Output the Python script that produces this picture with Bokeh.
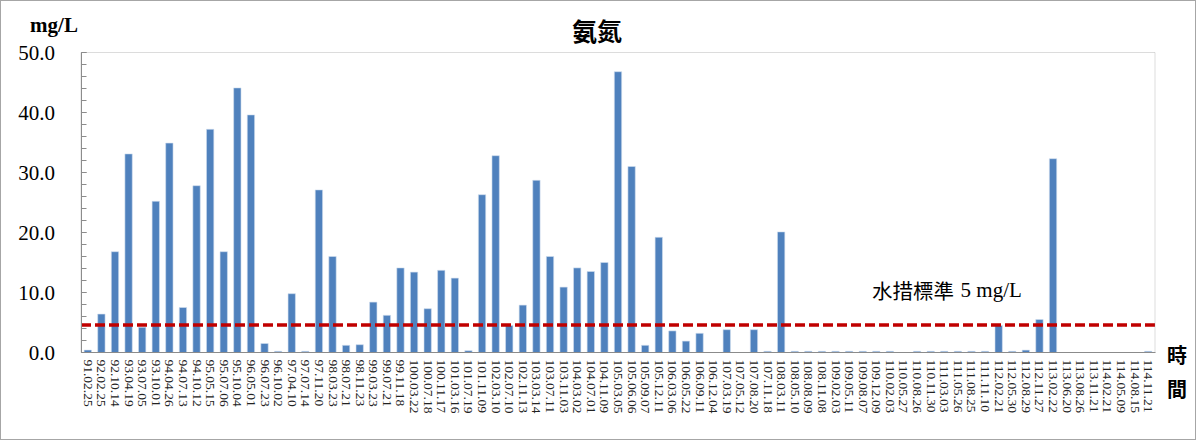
from bokeh.plotting import figure
from bokeh.models import (Range1d, Label, SingleIntervalTicker, NumeralTickFormatter,
                          FixedTicker, BoxAnnotation)
from bokeh.embed import file_html
from bokeh.resources import INLINE

dates = [
    "91.02.25", "92.02.25", "92.10.14", "93.04.19", "93.07.05", "93.10.01", "94.04.26", "94.07.13",
    "94.10.12", "95.05.15", "95.07.06", "95.10.04", "96.05.01", "96.07.23", "96.10.02", "97.04.10",
    "97.07.14", "97.11.20", "98.03.23", "98.07.21", "98.11.23", "99.03.23", "99.07.21", "99.11.18",
    "100.03.22", "100.07.18", "100.11.17", "101.03.16", "101.07.19", "101.11.09", "102.03.10",
    "102.07.10", "102.11.13", "103.03.14", "103.07.11", "103.11.03", "104.03.02", "104.07.01",
    "104.11.09", "105.03.05", "105.06.06", "105.09.07", "105.12.11", "106.03.06", "106.05.22",
    "106.09.11", "106.12.04", "107.03.19", "107.05.12", "107.08.20", "107.11.18", "108.03.11",
    "108.05.10", "108.08.09", "108.11.08", "109.02.03", "109.05.11", "109.08.07", "109.12.09",
    "110.02.03", "110.05.27", "110.08.26", "110.11.30", "111.03.03", "111.05.26", "111.08.25",
    "111.11.10", "112.02.21", "112.05.30", "112.08.29", "112.11.27", "113.02.22", "113.06.20",
    "113.08.26", "113.11.21", "114.02.21", "114.05.09", "114.08.15", "114.11.21",
]

ammonia = [
    0.4, 6.4, 16.8, 33.1, 4.2, 25.2, 34.9, 7.5, 27.8, 37.2, 16.8, 44.1, 39.6, 1.5, 0.2, 9.8,
    0.2, 27.1, 16.0, 1.2, 1.3, 8.4, 6.2, 14.1, 13.4, 7.3, 13.7, 12.4, 0.3, 26.3, 32.8,
    4.5, 7.9, 28.7, 16.0, 10.9, 14.1, 13.5, 15.0, 46.8, 31.0, 1.2, 19.2, 3.6, 1.9,
    3.2, 0.0, 3.8, 0.0, 3.8, 0.2, 20.1, 0.2, 0.2, 0.2, 0.2, 0.2, 0.2, 0.2,
    0.2, 0.0, 0.2, 0.2, 0.2, 0.2, 0.2, 0.2, 4.5, 0.2, 0.4, 5.5, 32.3, 0.0,
    0.0, 0.0, 0.0, 0.0, 0.0, 0.2,
]

standard_line = 4.6
y_max = 50

title_text = "氨氮"
unit_text = "mg/L"
standard_cjk = "水措標準"
standard_txt = "5 mg/L"
xaxis_title = ["時", "間"]

n = len(dates)
xpos = [i + 0.5 for i in range(n)]

W, H = 1196, 440
# plot area occupies canvas px [79.5, 1153.5] x [51, 351] (from top-left)
px_per_x = 1074 / n
px_per_y = 300 / y_max
x_start = -79.5 / px_per_x
x_end = x_start + W / px_per_x
y_end = y_max + 51 / px_per_y
y_start = y_end - H / px_per_y

p = figure(
    width=W, height=H,
    x_range=Range1d(x_start, x_end), y_range=Range1d(y_start, y_end),
    output_backend="svg", toolbar_location=None, min_border=0,
)
p.styles = {"border": "1.5px solid #a6a6a6"}
p.background_fill_color = "white"
p.border_fill_color = "white"
p.outline_line_color = None
p.xgrid.visible = False
p.ygrid.visible = False

p.vbar(x=xpos, top=ammonia, width=0.54, fill_color="#4F81BD", line_color="#D0DDEE", line_width=0.6)

p.segment(x0=[0], y0=[standard_line], x1=[n], y1=[standard_line], line_color="#C00000",
          line_width=3.5, line_dash="10 4")

p.add_layout(BoxAnnotation(left=0, right=n, bottom=0, top=y_max, fill_alpha=0,
                           line_color="#8c8c8c", line_width=1))

xa = p.xaxis[0]
xa.fixed_location = 0
xa.bounds = (0, n)
xa.ticker = FixedTicker(ticks=xpos)
xa.major_label_overrides = {x: d for x, d in zip(xpos, dates)}
xa.major_label_orientation = "vertical"
xa.major_tick_in = 0
xa.major_tick_out = 0
xa.minor_tick_line_color = None
xa.axis_line_color = "#8c8c8c"
xa.major_label_text_font = "Liberation Serif"
xa.major_label_text_font_size = "13.5px"
xa.major_label_text_color = "#222222"
xa.major_label_standoff = 7

ya = p.yaxis[0]
ya.fixed_location = 0
ya.bounds = (0, y_max)
ya.ticker = SingleIntervalTicker(interval=10, num_minor_ticks=5)
ya.formatter = NumeralTickFormatter(format="0.0")
ya.major_tick_in = 5
ya.major_tick_out = 0
ya.minor_tick_in = 5
ya.minor_tick_out = 0
ya.major_tick_line_color = "#8c8c8c"
ya.minor_tick_line_color = "#8c8c8c"
ya.axis_line_color = "#8c8c8c"
ya.major_label_text_font = "Liberation Serif"
ya.major_label_text_font_size = "21px"
ya.major_label_text_color = "black"
ya.major_label_standoff = 26


def add_text(x, y, text, font, size, bold=False, align="center"):
    p.add_layout(Label(x=x, y=y, text=text, text_font=font, text_font_size=size,
                       text_font_style="bold" if bold else "normal", text_align=align,
                       text_baseline="middle", text_color="black"))


add_text(-1.986, 54.58, unit_text, "Liberation Serif", "21px", bold=True)
add_text(37.95, 53.75, title_text, "Noto Sans CJK TC", "25px", bold=True)
add_text(58.18, 10.42, standard_cjk, "Noto Sans CJK TC", "20.5px", align="left")
add_text(64.7, 10.42, standard_txt, "Liberation Serif", "21px", align="left")
add_text(80.62, -0.25, xaxis_title[0], "Noto Sans CJK TC", "20px", bold=True)
add_text(80.62, -6.08, xaxis_title[1], "Noto Sans CJK TC", "20px", bold=True)

open("out.html", "w").write(file_html(p, INLINE))
